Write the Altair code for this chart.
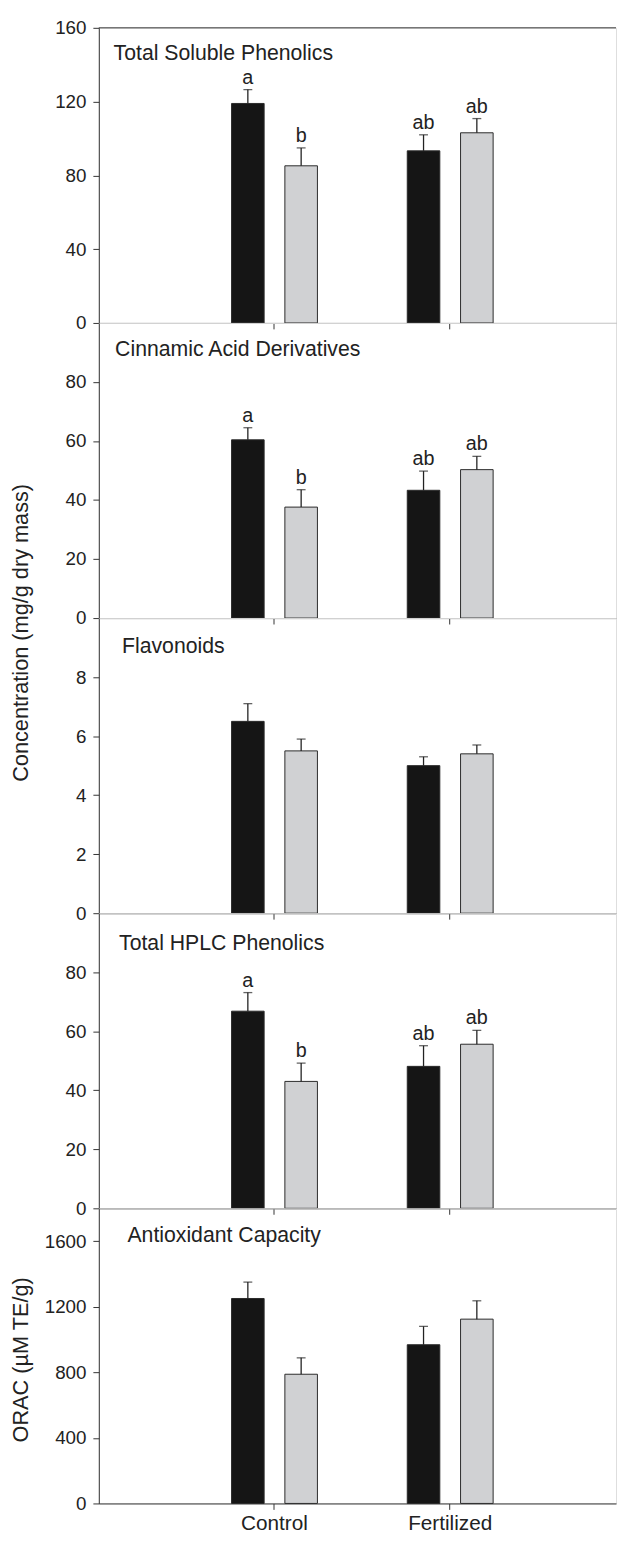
import altair as alt
import pandas as pd

groups = ["Control", "Fertilized"]
series = ["Series 1", "Series 2"]

titles = [
    "Total Soluble Phenolics",
    "Cinnamic Acid Derivatives",
    "Flavonoids",
    "Total HPLC Phenolics",
    "Antioxidant Capacity",
]
# order within each panel: Control/S1, Control/S2, Fertilized/S1, Fertilized/S2
means = [
    [119.0, 85.2, 93.3, 103.1],
    [60.4, 37.6, 43.3, 50.3],
    [6.5, 5.5, 5.0, 5.4],
    [66.8, 43.0, 48.1, 55.6],
    [1250, 788, 968, 1124],
]
errors = [
    [7.5, 9.7, 8.7, 7.7],
    [4.1, 5.9, 6.5, 4.5],
    [0.6, 0.4, 0.3, 0.3],
    [6.3, 6.2, 7.0, 4.7],
    [100, 100, 112, 112],
]
letters = [
    ["a", "b", "ab", "ab"],
    ["a", "b", "ab", "ab"],
    ["", "", "", ""],
    ["a", "b", "ab", "ab"],
    ["", "", "", ""],
]
y_domains = [[0, 160], [0, 100], [0, 10], [0, 100], [0, 1800]]
y_ticks = [
    [0, 40, 80, 120, 160],
    [0, 20, 40, 60, 80],
    [0, 2, 4, 6, 8],
    [0, 20, 40, 60, 80],
    [0, 400, 800, 1200, 1600],
]
y_titles = [None, None, "Concentration (mg/g dry mass)", None, "ORAC (\u00b5M TE/g)"]

# layout (style) settings
W, H = 524, 299
title_xy = [(15, 33), (16.5, 33), (23.5, 35), (20.5, 37), (29, 34)]
ytitle_y = [None, None, 14.5, None, 153]
FONT = "Liberation Sans"
INK = "#222222"

xscale = alt.Scale(domain=groups, paddingInner=0.5112, paddingOuter=0.7275, align=0.5193)
xoff_scale = alt.Scale(domain=series, paddingInner=0.3889, paddingOuter=0)
color_scale = alt.Scale(domain=series, range=["#151515", "#d0d1d3"])


def panel(i):
    rows = []
    k = 0
    for g in groups:
        for s in series:
            rows.append({"group": g, "series": s, "value": means[i][k],
                         "err": errors[i][k], "letter": letters[i][k]})
            k += 1
    df = pd.DataFrame(rows)
    base = alt.Chart(df).transform_calculate(top="datum.value + datum.err")

    last = i == len(titles) - 1
    xaxis = alt.Axis(title=None, labels=last, ticks=True, tickSize=6, domain=True,
                     domainColor="#333333", tickColor="#333333", labelFontSize=21,
                     labelPadding=3, labelColor=INK, labelAngle=0, grid=False,
                     labelFont=FONT)
    x = alt.X("group:N", scale=xscale, axis=xaxis)
    xo = alt.XOffset("series:N", scale=xoff_scale)

    axis_kw = dict(values=y_ticks[i], format="d", tickSize=6, labelPadding=7,
                   labelFontSize=19, labelColor=INK, domainColor="#333333",
                   tickColor="#333333", grid=False, labelFont=FONT)
    if y_titles[i] is not None:
        axis_kw.update(title=y_titles[i], titleX=-79, titleY=ytitle_y[i],
                       titleAngle=270, titleAlign="center", titleBaseline="middle",
                       titleFontSize=22, titleFontWeight="normal", titleColor=INK,
                       titleFont=FONT)
    else:
        axis_kw.update(title=None)
    yaxis = alt.Axis(**axis_kw)
    yscale = alt.Scale(domain=y_domains[i], nice=False, zero=True)

    def Y(field):
        return alt.Y(field, scale=yscale, axis=yaxis)

    bars = base.mark_bar(stroke="#2a2a2a", strokeWidth=1).encode(
        x=x, xOffset=xo, y=Y("value:Q"),
        color=alt.Color("series:N", scale=color_scale, legend=None))
    whisk = base.mark_rule(color=INK, strokeWidth=1.3).encode(
        x=x, xOffset=xo, y=Y("value:Q"), y2="top:Q")
    cap = base.mark_tick(color=INK, thickness=1.3, size=9).encode(
        x=x, xOffset=xo, y=Y("top:Q"))
    lab = base.mark_text(dy=-6, baseline="alphabetic", fontSize=20, color=INK,
                         font=FONT).encode(x=x, xOffset=xo, y=Y("top:Q"), text="letter:N")
    tx, ty = title_xy[i]
    ttl = alt.Chart(pd.DataFrame({"t": [titles[i]]})).mark_text(
        align="left", baseline="alphabetic", fontSize=21.5, color=INK, font=FONT
    ).encode(x=alt.value(tx), y=alt.value(ty), text="t:N")
    layers = [bars, whisk, cap, lab, ttl]
    if i == 0:
        top_line = alt.Chart(pd.DataFrame({"v": [y_domains[0][1]]})).mark_rule(
            color="#333333", strokeWidth=1).encode(y=alt.Y("v:Q", scale=yscale, axis=yaxis))
        layers.append(top_line)
    return alt.layer(*layers).properties(width=W, height=H)


chart = alt.vconcat(*[panel(i) for i in range(len(titles))], spacing=0, bounds="flush")
chart = chart.resolve_scale(y="independent").configure_view(stroke=None).configure(
    font=FONT).properties(padding={"left": 1, "top": 0, "right": 0, "bottom": 0},
                          background="white")

chart.save("out.html", embed_options={"renderer": "svg", "actions": False})
